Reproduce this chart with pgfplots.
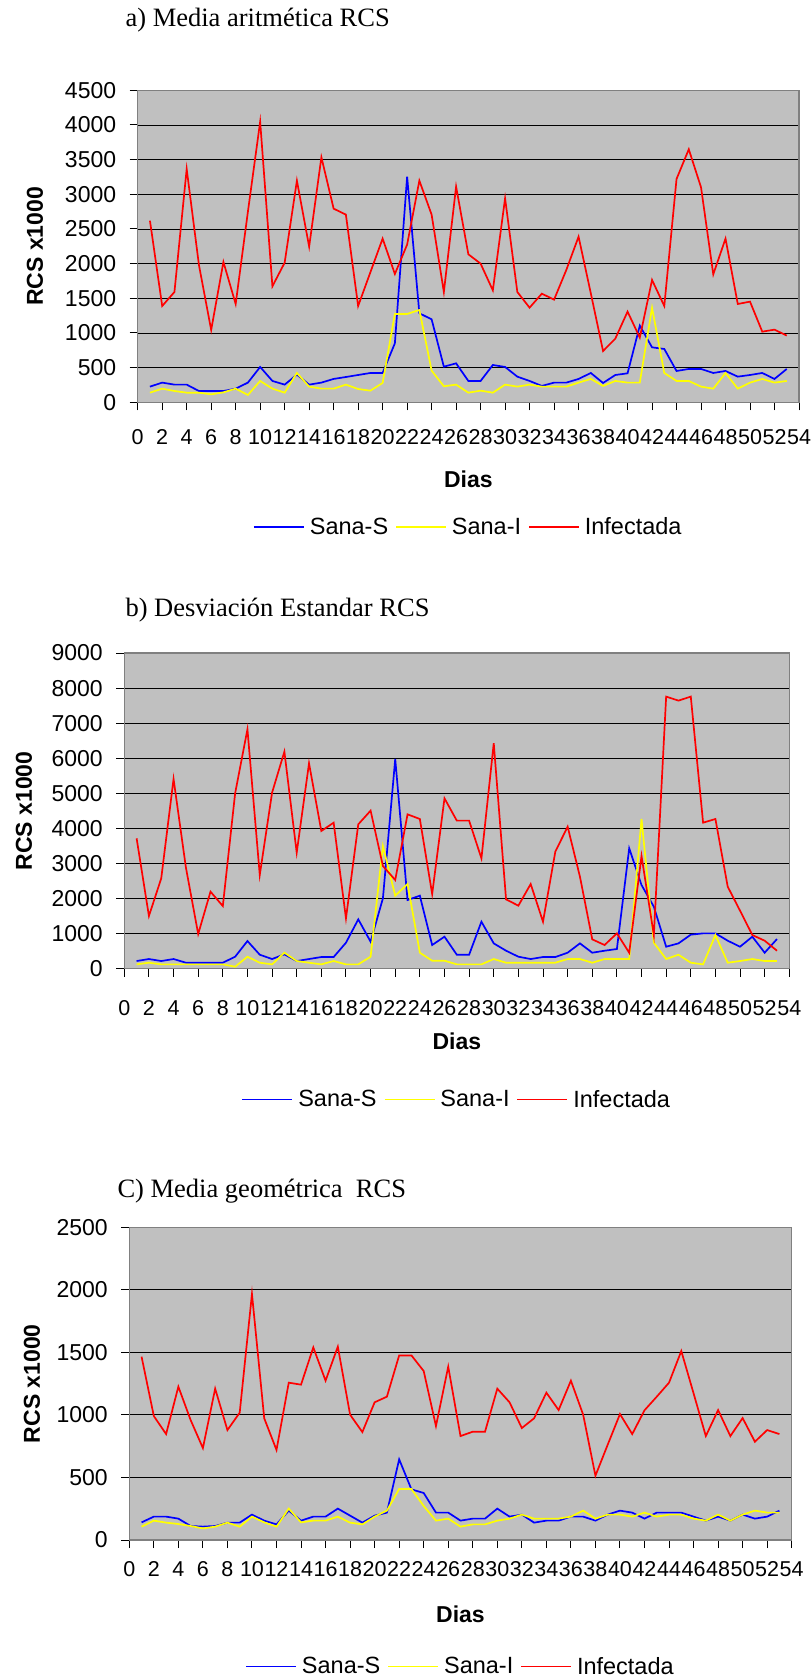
\documentclass[border=0pt]{standalone}
\usepackage{fontspec}
\setmainfont{Liberation Sans}
\newfontfamily\titlefont{Liberation Serif}
\usepackage{pgfplots}
\usepackage{pgfplotstable}
\pgfplotsset{compat=1.18}
\definecolor{bg}{HTML}{C0C0C0}
\definecolor{sblue}{HTML}{0000FF}
\definecolor{syellow}{HTML}{FFFF00}
\definecolor{sred}{HTML}{FF0000}

\pgfplotstableread{
d S I F
1 226 139 2620
2 284 197 1389
3 255 163 1591
4 255 139 3365
5 163 139 1981
6 163 115 1043
7 163 144 2024
8 197 197 1418
9 284 106 2750
10 510 308 4048
11 308 197 1673
12 255 139 2014
13 399 423 3197
14 255 226 2245
15 284 197 3534
16 337 197 2793
17 365 255 2707
18 394 192 1389
19 423 168 1875
20 423 279 2361
21 851 1274 1851
22 3255 1274 2274
23 1284 1332 3197
24 1197 457 2707
25 514 231 1591
26 562 255 3111
27 308 139 2135
28 308 168 2000
29 538 139 1615
30 510 255 2942
31 370 226 1591
32 308 255 1365
33 236 226 1567
34 284 226 1481
35 284 226 1909
36 337 284 2389
37 423 337 1572
38 279 236 740
39 394 308 918
40 418 284 1308
41 1106 284 933
42 793 1365 1764
43 769 423 1389
44 452 308 3221
45 481 308 3649
46 481 226 3101
47 423 197 1846
48 452 423 2361
49 370 197 1418
50 394 284 1452
51 423 337 1019
52 337 284 1048
53 481 308 962
}\tabA

\pgfplotstableread{
d S I F
1 219 124 3717
2 276 171 1502
3 219 124 2576
4 276 124 5409
5 171 124 2890
6 171 124 989
7 171 124 2196
8 171 124 1787
9 342 57 5000
10 789 342 6825
11 399 171 2671
12 276 124 5019
13 409 456 6188
14 219 219 3308
15 276 171 5856
16 333 124 3926
17 333 219 4163
18 741 124 1435
19 1407 124 4116
20 770 342 4506
21 2006 3498 2928
22 5979 2082 2529
23 1958 2414 4401
24 2082 456 4268
25 675 228 2129
26 913 228 4857
27 399 124 4221
28 399 124 4221
29 1340 124 3146
30 722 276 6426
31 513 171 1977
32 342 171 1797
33 276 171 2414
34 333 171 1340
35 333 171 3336
36 456 276 4049
37 722 276 2624
38 456 171 837
39 513 276 675
40 561 276 1008
41 3432 276 456
42 2386 4268 3213
43 1768 741 960
44 627 276 7757
45 722 399 7643
46 970 171 7757
47 1008 124 4163
48 1008 960 4268
49 798 171 2338
50 627 219 1654
51 913 276 960
52 456 219 798
53 846 219 513
}\tabB

\pgfplotstableread{
d S I F
1 141 107 1466
2 187 155 991
3 187 139 847
4 171 128 1226
5 112 112 959
6 107 93 735
7 112 107 1210
8 139 139 879
9 139 107 1018
10 203 187 1967
11 155 141 973
12 125 107 720
13 235 251 1258
14 155 141 1242
15 187 155 1540
16 187 155 1274
17 251 187 1546
18 195 139 1002
19 139 125 863
20 195 187 1101
21 219 235 1146
22 645 408 1476
23 405 408 1476
24 376 272 1351
25 219 155 911
26 219 171 1386
27 155 107 831
28 171 125 866
29 171 125 866
30 251 155 1210
31 187 171 1101
32 203 203 895
33 139 171 973
34 155 171 1178
35 155 171 1039
36 187 187 1274
37 187 235 1002
38 155 171 514
39 203 203 762
40 235 203 1007
41 219 187 847
42 171 219 1037
43 219 187 1146
44 219 203 1258
45 219 203 1511
46 187 171 1173
47 155 155 831
48 187 203 1039
49 155 155 831
50 203 203 975
51 171 235 786
52 187 219 879
53 235 219 847
}\tabC

\newcommand{\xtlfont}{\fontsize{21.5}{25}\selectfont}
\newcommand{\ytlfont}{\fontsize{23}{26}\selectfont}
\pgfplotsset{
  excel/.style={
    scale only axis,
    xmin=0, xmax=54, ymin=0,
    xtick={0,2,...,54},
    tick align=outside,
    tick pos=left,
    axis background/.style={fill=bg},
    axis line style={draw=black!50, line width=1.2pt},
    ymajorgrids,
    major grid style={draw=black, line width=0.9pt},
    major tick length=8pt,
    every tick/.style={black, line width=1pt},
    /pgf/number format/1000 sep={},
    xticklabel={\xtlfont\pgfmathprintnumber[assume math mode=true]{\tick}},
    yticklabel={\ytlfont\pgfmathprintnumber[assume math mode=true]{\tick}},
    yticklabel style={xshift=-10pt},
    xlabel={Dias}, ylabel={RCS x1000},
    label style={font=\bfseries\fontsize{23}{26}\selectfont},
    legend columns=3,
    legend style={draw=none, fill=none, font=\fontsize{23.5}{26}\selectfont,
      /tikz/every odd column/.append style={column sep=3pt},
      /tikz/every even column/.append style={column sep=5pt}},
    every axis plot/.append style={line width=1.7pt, mark=none,
      legend image code/.code={\draw[##1, line width=1.7pt] (0pt,0pt) -- (50pt,0pt);}},
  }
}

\begin{document}
\begin{tikzpicture}
\useasboundingbox (0,0) rectangle (811pt,-1679pt);

\node[anchor=west, font=\titlefont\fontsize{26.5}{29}\selectfont] at (122pt,-20pt) {a) Media aritmética RCS};
\node[anchor=west, font=\titlefont\fontsize{26.5}{29}\selectfont] at (122pt,-610pt) {b) Desviación Estandar RCS};
\node[anchor=west, font=\titlefont\fontsize{26.5}{29}\selectfont] at (114pt,-1191pt) {C) Media geométrica\ \ RCS};

% Panel a
\begin{axis}[excel, at={(137.7pt,-90.3pt)}, anchor=north west,
  width=661.3pt, height=312pt, ymax=4500, ytick={0,500,...,4500},
  xticklabel style={yshift=-16pt},
  ylabel style={at={(axis description cs:-0.1553,0.5)}, anchor=center},
  xlabel style={at={(axis description cs:0.5,-0.247)}, anchor=center},
  legend style={at={(0.5,-0.40)}, anchor=center}]
\addplot[sblue] table[x=d, y=S] {\tabA};
\addplot[syellow] table[x=d, y=I] {\tabA};
\addplot[sred] table[x=d, y=F] {\tabA};
\legend{Sana-S, Sana-I, Infectada}
\end{axis}

% Panel b
\begin{axis}[excel, at={(124.3pt,-653pt)}, anchor=north west,
  width=665pt, height=315.7pt, ymax=9000, ytick={0,1000,...,9000},
  xticklabel style={yshift=-20pt},
  ylabel style={at={(axis description cs:-0.1508,0.5)}, anchor=center},
  xlabel style={at={(axis description cs:0.5,-0.230)}, anchor=center},
  legend style={at={(0.5,-0.414)}, anchor=center}]
\addplot[sblue] table[x=d, y=S] {\tabB};
\addplot[syellow] table[x=d, y=I] {\tabB};
\addplot[sred] table[x=d, y=F] {\tabB};
\legend{Sana-S, Sana-I, Infectada}
\end{axis}

% Panel c
\begin{axis}[excel, at={(129.3pt,-1227.3pt)}, anchor=north west,
  width=662.4pt, height=312.7pt, ymax=2500, ytick={0,500,...,2500},
  xticklabel style={yshift=-10pt},
  ylabel style={at={(axis description cs:-0.1469,0.5)}, anchor=center},
  xlabel style={at={(axis description cs:0.5,-0.238)}, anchor=center},
  legend style={at={(0.5,-0.404)}, anchor=center}]
\addplot[sblue] table[x=d, y=S] {\tabC};
\addplot[syellow] table[x=d, y=I] {\tabC};
\addplot[sred] table[x=d, y=F] {\tabC};
\legend{Sana-S, Sana-I, Infectada}
\end{axis}
\end{tikzpicture}
\end{document}
